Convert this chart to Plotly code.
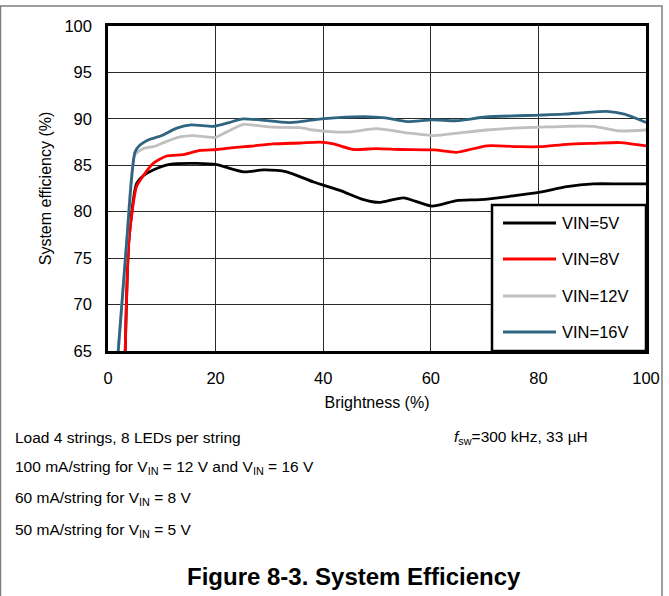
import plotly.graph_objects as go

# Brightness (%) and system efficiency (%) for each input voltage
series_names = ["VIN=5V", "VIN=8V", "VIN=12V", "VIN=16V"]
series_colors = ["#000000", "#FF0000", "#BFBFBF", "#2F6580"]

x_5v = [3.2, 3.9, 5.3, 6.6, 8.4, 11.5, 16.5, 20.2, 25.2, 28.9, 33.2, 38.2, 43.1, 47.5, 50.4,
        54.9, 60.2, 64.8, 69.2, 75.3, 80.3, 85.3, 90.2, 95.2, 100]
y_5v = [65.0, 77.0, 83.0, 83.9, 84.5, 85.1, 85.2, 85.07, 84.3, 84.5, 84.3, 83.2, 82.3, 81.3, 81.0,
        81.5, 80.6, 81.2, 81.3, 81.7, 82.1, 82.7, 83.0, 83.0, 83.0]

x_8v = [3.2, 3.9, 5.3, 6.6, 8.4, 10.9, 14.0, 17.1, 20.2, 23.3, 26.4, 30.7, 35.7, 39.4, 41.9,
        45.6, 49.9, 54.3, 60.6, 64.8, 70.4, 76.6, 80.3, 85.3, 90.2, 95.2, 100]
y_8v = [65.0, 77.0, 82.7, 83.9, 85.2, 86.0, 86.15, 86.6, 86.7, 86.9, 87.05, 87.3, 87.4, 87.5, 87.3,
        86.7, 86.8, 86.7, 86.65, 86.4, 87.1, 87.0, 87.0, 87.25, 87.36, 87.45, 87.1]

x_12v = [1.9, 3.5, 5.0, 6.6, 8.7, 10.6, 13.4, 15.9, 19.9, 22.1, 25.2, 27.6, 30.7, 35.7, 38.2,
         41.9, 45.0, 49.9, 55.5, 60.6, 65.4, 70.4, 75.3, 80.3, 85.3, 90.2, 95.2, 100]
y_12v = [65.0, 77.0, 86.1, 86.8, 87.05, 87.5, 88.05, 88.2, 88.0, 88.6, 89.4, 89.3, 89.1, 89.05, 88.8,
         88.6, 88.6, 88.95, 88.5, 88.2, 88.5, 88.8, 89.0, 89.1, 89.2, 89.2, 88.7, 88.8]

x_16v = [1.9, 3.5, 5.0, 5.9, 7.8, 10.0, 12.8, 15.5, 19.7, 22.5, 25.1, 33.7, 39.7, 47.6, 51.6,
         55.6, 60.2, 64.9, 70.2, 80.1, 84.7, 92.7, 96.0, 100]
y_16v = [65.0, 77.0, 86.4, 87.15, 87.8, 88.2, 89.0, 89.35, 89.2, 89.6, 90.0, 89.6, 90.0, 90.25, 90.1,
         89.7, 89.9, 89.8, 90.2, 90.4, 90.5, 90.8, 90.5, 89.6]

x_ticks = [0, 20, 40, 60, 80, 100]
y_ticks = [65, 70, 75, 80, 85, 90, 95, 100]

notes = [
    "Load 4 strings, 8 LEDs per string",
    "100 mA/string for V<sub>IN</sub> = 12 V and V<sub>IN</sub> = 16 V",
    "60 mA/string for V<sub>IN</sub> = 8 V",
    "50 mA/string for V<sub>IN</sub> = 5 V",
]
note_conditions = "<i>f</i><sub>sw</sub>=300 kHz, 33 µH"
figure_caption = "<b>Figure 8-3. System Efficiency</b>"

FONT = "Liberation Sans, Arial, sans-serif"
W, H = 669, 596
L, R, T, B = 108, 23, 26, 245
PW, PH = W - L - R, H - T - B


def px_x(px):
    return (px - L) / PW


def px_y(py):
    return (H - B - py) / PH


fig = go.Figure()
all_x = [x_5v, x_8v, x_12v, x_16v]
all_y = [y_5v, y_8v, y_12v, y_16v]
# draw higher-voltage curves last so they sit on top
for name, color, xs, ys in zip(series_names, series_colors, all_x, all_y):
    fig.add_trace(go.Scatter(
        x=xs, y=ys, name=name, mode="lines",
        line=dict(color=color, width=2.8, shape="spline", smoothing=0.6),
        showlegend=False, cliponaxis=True,
    ))

fig.update_xaxes(
    range=[0, 100], tickvals=x_ticks, ticks="", showgrid=True,
    gridcolor="#2a2a2a", gridwidth=1, zeroline=False,
    showline=True, linecolor="black", linewidth=2.5, mirror=True,
    tickfont=dict(size=16.5, color="black", family=FONT), ticklabelstandoff=10,
    title=dict(text="Brightness (%)", font=dict(size=16, color="black", family=FONT), standoff=12),
)
fig.update_yaxes(
    range=[65, 100], tickvals=y_ticks, ticks="", showgrid=True,
    gridcolor="#2a2a2a", gridwidth=1, zeroline=False,
    showline=True, linecolor="black", linewidth=2.5, mirror=True,
    tickfont=dict(size=16.5, color="black", family=FONT), ticklabelstandoff=10,
    title=dict(text="System efficiency (%)", font=dict(size=16, color="black", family=FONT), standoff=9),
)

shapes = []
annotations = []

# outer figure frame
shapes.append(dict(type="rect", xref="paper", yref="paper",
                   x0=px_x(0.5), x1=px_x(662), y0=px_y(620), y1=px_y(6),
                   line=dict(color="#7f7f7f", width=1.5), fillcolor="rgba(0,0,0,0)", layer="below"))

# legend box
shapes.append(dict(type="rect", xref="paper", yref="paper",
                   x0=px_x(492), x1=px_x(646), y0=px_y(351), y1=px_y(205),
                   line=dict(color="black", width=2.5), fillcolor="white", layer="above"))
legend_rows = [223, 259, 296, 332]
for name, color, ry in zip(series_names, series_colors, legend_rows):
    shapes.append(dict(type="line", xref="paper", yref="paper",
                       x0=px_x(503), x1=px_x(556), y0=px_y(ry), y1=px_y(ry),
                       line=dict(color=color, width=2.8), layer="above"))
    annotations.append(dict(xref="paper", yref="paper", x=px_x(560), y=px_y(ry),
                            xanchor="left", yanchor="middle", showarrow=False,
                            text=name, font=dict(size=16.5, color="black", family=FONT)))

# test-condition notes below the chart
for i, note in enumerate(notes):
    annotations.append(dict(xref="paper", yref="paper", x=px_x(13), y=px_y(437 + 31 * i),
                            xanchor="left", yanchor="middle", showarrow=False,
                            text=note, font=dict(size=15.5, color="black", family=FONT)))
annotations.append(dict(xref="paper", yref="paper", x=px_x(452), y=px_y(437),
                        xanchor="left", yanchor="middle", showarrow=False,
                        text=note_conditions, font=dict(size=15.5, color="black", family=FONT)))
annotations.append(dict(xref="paper", yref="paper", x=px_x(354), y=px_y(576),
                        xanchor="center", yanchor="middle", showarrow=False,
                        text=figure_caption, font=dict(size=24, color="black", family=FONT)))

fig.update_layout(
    width=W, height=H,
    margin=dict(l=L, r=R, t=T, b=B, autoexpand=False),
    paper_bgcolor="white", plot_bgcolor="white",
    showlegend=False, shapes=shapes, annotations=annotations,
)

fig.write_html("out.html")
